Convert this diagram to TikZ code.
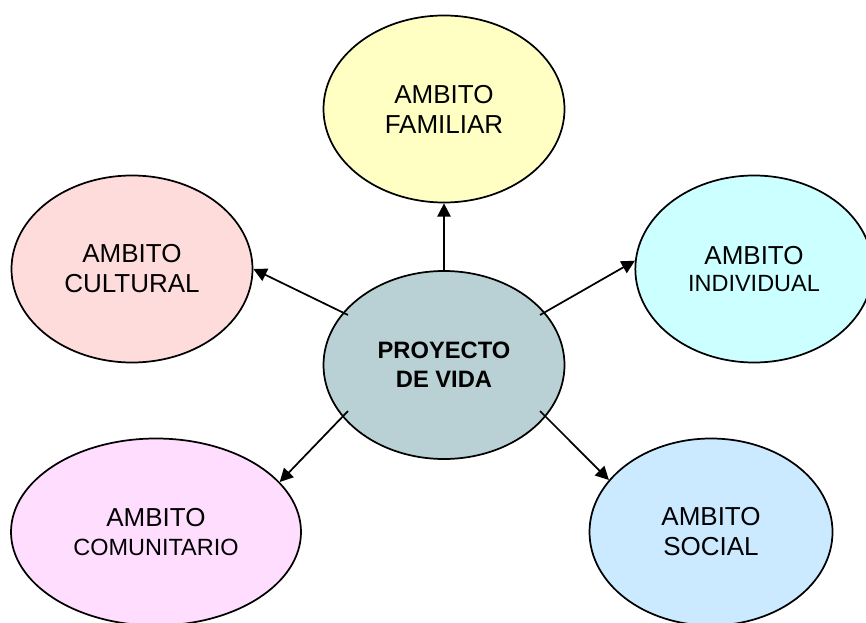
\documentclass[tikz,border=0pt]{standalone}
\usepackage{fontspec}
\setmainfont{Liberation Sans}
\usetikzlibrary{shapes.geometric,arrows.meta,calc}
\definecolor{famfill}{RGB}{255,255,196}
\definecolor{culfill}{RGB}{255,220,220}
\definecolor{indfill}{RGB}{204,255,255}
\definecolor{pvfill}{RGB}{185,209,212}
\definecolor{comfill}{RGB}{255,221,255}
\definecolor{socfill}{RGB}{204,234,255}
\tikzset{
  amb/.style={ellipse,draw=black,line width=1.3pt,inner sep=0pt,align=center,
    minimum width=180.75pt,minimum height=140.25pt,
    font=\fontsize{19.5}{22.5}\selectfont},
  conn/.style={line width=1.3pt,-{Triangle[length=10pt,width=10pt]}}
}
\newcommand{\smalltxt}[1]{{\fontsize{17.6}{20}\selectfont #1}}
\begin{document}
\begin{tikzpicture}[x=0.75pt,y=-0.75pt]
\clip (0,0) rectangle (866,623);
\fill[white] (0,0) rectangle (866,623);
\node[amb,fill=famfill] (fam) at (444,109) {AMBITO\\FAMILIAR};
\node[amb,fill=culfill] (cul) at (132,269) {AMBITO\\CULTURAL};
\node[amb,fill=indfill,minimum width=178pt] (ind) at (754,269) {AMBITO\\[-2pt]\smalltxt{INDIVIDUAL}};
\node[amb,fill=pvfill,minimum height=141pt,font=\fontsize{17.8}{21.75}\selectfont\bfseries] (pv) at (444,365) {PROYECTO\\DE VIDA};
\node[amb,fill=comfill,minimum width=217.5pt] (com) at (156,532) {AMBITO\\[-1pt]\smalltxt{COMUNITARIO}};
\node[amb,fill=socfill,minimum width=182.25pt] (soc) at (711,532) {AMBITO\\SOCIAL};
\coordinate (pvA) at ($(pv.center)+(-96,-50)$);
\coordinate (pvB) at ($(pv.center)+(96,-50)$);
\coordinate (pvC) at ($(pv.center)+(-96,46)$);
\coordinate (pvD) at ($(pv.center)+(96,46)$);
\draw[conn] (pv.north) -- (fam.south);
\draw[conn] (pvA) -- (cul.east);
\draw[conn] (pvB) -- (ind.176);
\draw[conn] (pvC) -- (com.22);
\draw[conn] (pvD) -- (soc.153);
\end{tikzpicture}
\end{document}
